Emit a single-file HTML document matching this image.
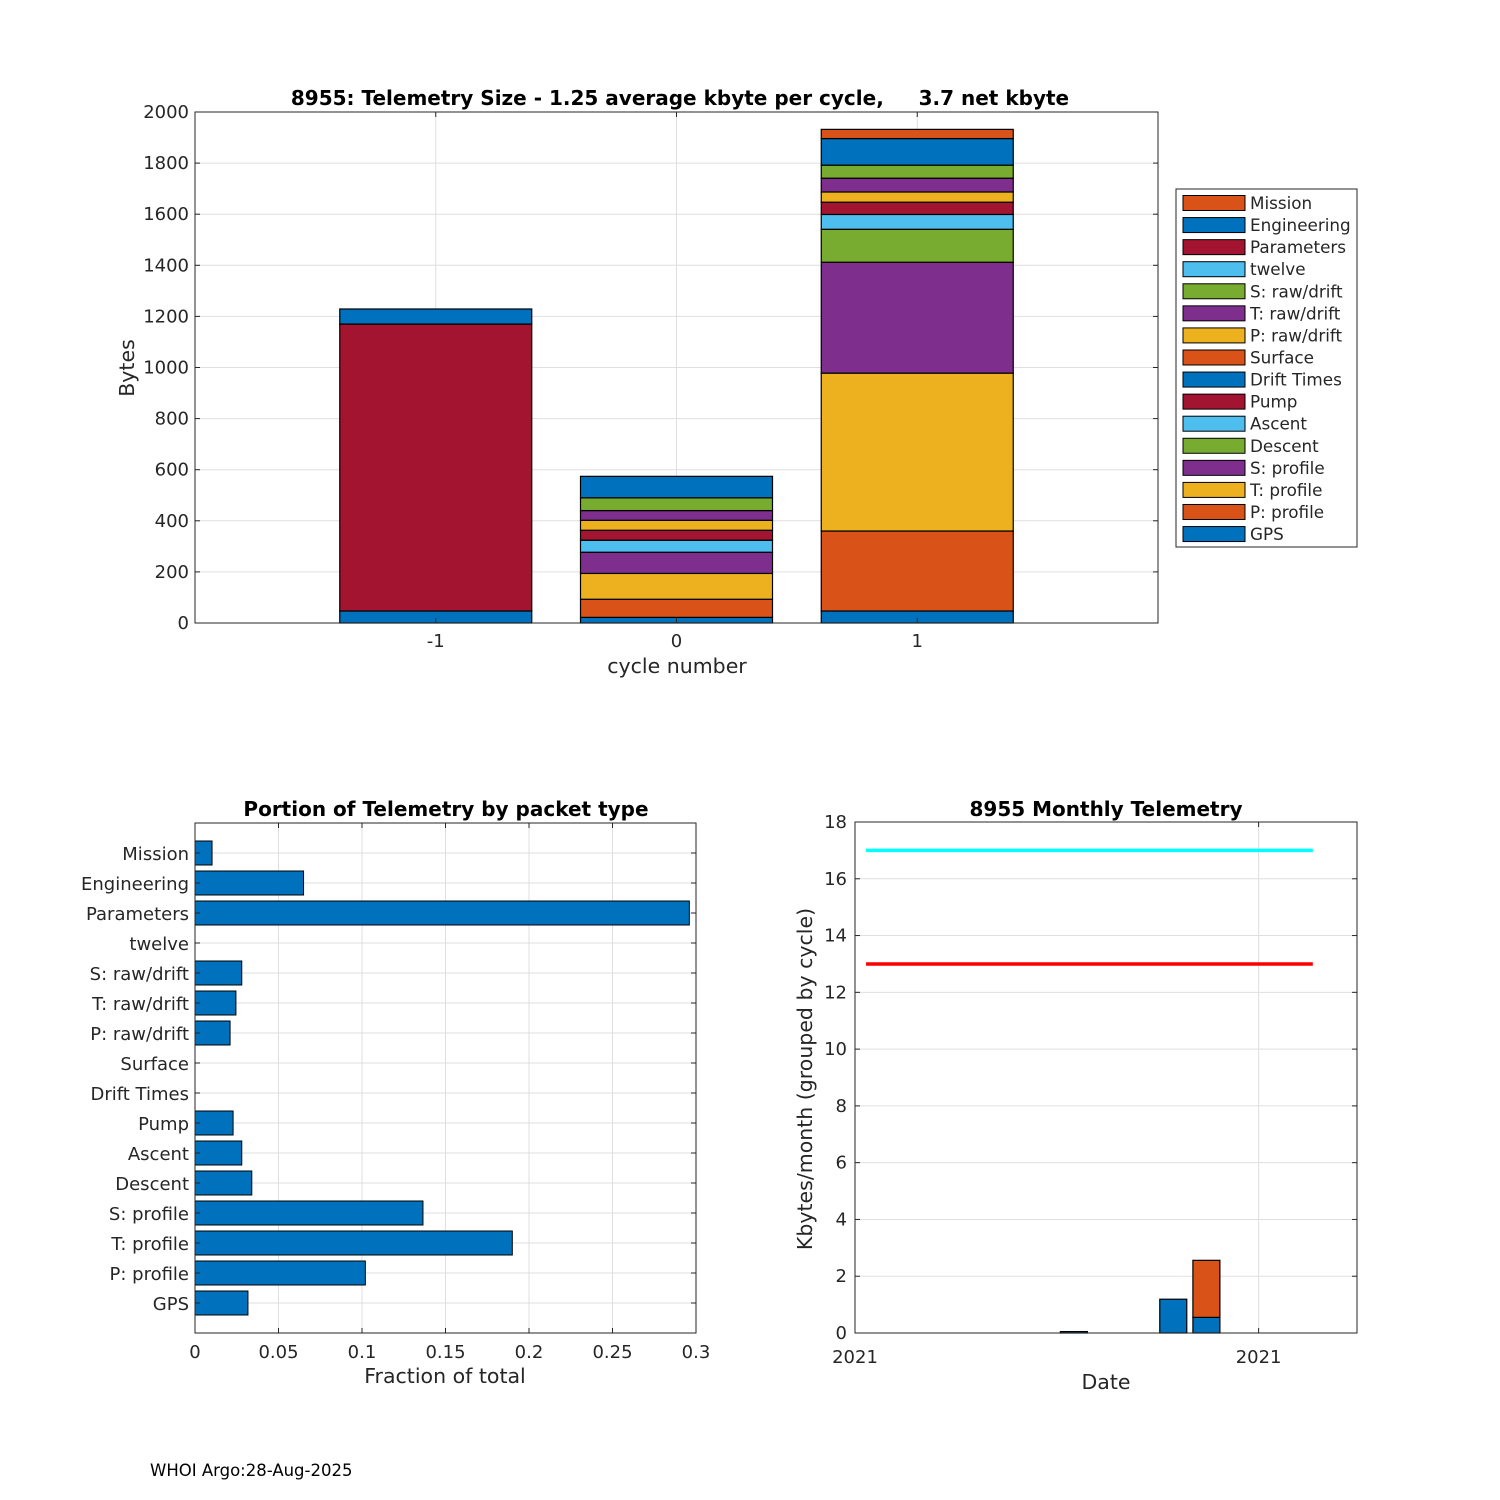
<!DOCTYPE html>
<html><head><meta charset="utf-8">
<style>
body{margin:0;background:#fff;}
svg{display:block;font-family:"DejaVu Sans","Liberation Sans",sans-serif;}
</style></head>
<body>
<svg id="fig" width="1500" height="1500" viewBox="0 0 1500 1500" xmlns="http://www.w3.org/2000/svg">
<rect width="1500" height="1500" fill="#fff"/>
</svg>
<script>
// ---- Top chart data ----
const cycles = [-1, 0, 1];
const seriesNames = ["GPS","P: profile","T: profile","S: profile","Descent","Ascent","Pump","Drift Times","Surface","P: raw/drift","T: raw/drift","S: raw/drift","twelve","Parameters","Engineering","Mission"];
const seriesColors = ["#0072BD","#D95319","#EDB120","#7E2F8E","#77AC30","#4DBEEE","#A2142F","#0072BD","#D95319","#EDB120","#7E2F8E","#77AC30","#4DBEEE","#A2142F","#0072BD","#D95319"];
const gpsVals = [47, 22, 47];
const pProfVals = [0, 71, 313];
const tProfVals = [0, 101, 618];
const sProfVals = [0, 83, 434];
const descentVals = [0, 0, 129];
const ascentVals = [0, 47, 58];
const pumpVals = [0, 39, 48];
const driftVals = [0, 0, 0];
const surfaceVals = [0, 0, 0];
const pRawVals = [0, 39, 40];
const tRawVals = [0, 38, 54];
const sRawVals = [0, 50, 51];
const twelveVals = [0, 0, 0];
const paramVals = [1123, 0, 0];
const engVals = [59, 84, 104];
const missionVals = [0, 0, 36];
const topYTicks = [0,200,400,600,800,1000,1200,1400,1600,1800,2000];
// ---- Bottom-left data ----
const packetLabels = ["GPS","P: profile","T: profile","S: profile","Descent","Ascent","Pump","Drift Times","Surface","P: raw/drift","T: raw/drift","S: raw/drift","twelve","Parameters","Engineering","Mission"];
const packetFractions = [0.0317,0.102,0.19,0.1365,0.034,0.028,0.0228,0,0,0.021,0.0245,0.028,0,0.296,0.065,0.0102];
const fracTicks = [0,0.05,0.1,0.15,0.2,0.25,0.3];
const fracTickLabels = ["0","0.05","0.1","0.15","0.2","0.25","0.3"];
// ---- Bottom-right data ----
const monthDays = [218, 317, 350];
const monthBlue = [0.05, 1.19, 0.55];
const monthOrange = [0, 0, 2.01];
const lineCyanY = 17, lineRedY = 13;
const lineStartDay = 11, lineEndDay = 456;
const dateTicks = [0, 402];
const dateTickLabels = ["2021","2021"];
const monthYTicks = [0,2,4,6,8,10,12,14,16,18];

const NS="http://www.w3.org/2000/svg";
const svg=document.getElementById('fig');
function el(tag,attrs,parent){const e=document.createElementNS(NS,tag);for(const k in attrs)e.setAttribute(k,attrs[k]);(parent||svg).appendChild(e);return e;}
function txt(x,y,s,size,anchor,parent,extra){const t=el('text',Object.assign({x:x,y:y,'font-size':size,'text-anchor':anchor||'middle',fill:'#262626'},extra||{}),parent);t.textContent=s;return t;}
const TK=18, AX=20.5, TT=20;

// ===== Top chart =====
const T={l:195,r:1158,t:112,b:623};
const tx=v=>T.l+(v+2)/4*(T.r-T.l);
const ty=v=>T.b-v/2000*(T.b-T.t);
const gTop=el('g',{});


topYTicks.forEach(v=>{const l=el('line',{x1:T.l,x2:T.r,y1:ty(v),y2:ty(v),stroke:'#dfdfdf'},gTop);});
cycles.forEach(c=>{const l=el('line',{x1:tx(c),x2:tx(c),y1:T.t,y2:T.b,stroke:'#dfdfdf'},gTop);});
const allSeries=[gpsVals,pProfVals,tProfVals,sProfVals,descentVals,ascentVals,pumpVals,driftVals,surfaceVals,pRawVals,tRawVals,sRawVals,twelveVals,paramVals,engVals,missionVals];
cycles.forEach((c,i)=>{let base=0;allSeries.forEach((s,k)=>{const v=s[i];if(v>0){const r=el('rect',{x:tx(c)-96,width:192,y:ty(base+v),height:ty(base)-ty(base+v),fill:seriesColors[k],stroke:'#000','stroke-width':1.2},gTop);}base+=v;});});
el('rect',{x:T.l,y:T.t,width:T.r-T.l,height:T.b-T.t,fill:'none',stroke:'#262626','stroke-width':1},gTop);
topYTicks.forEach(v=>{el('line',{x1:T.l,x2:T.l+5,y1:ty(v),y2:ty(v),stroke:'#262626'},gTop);el('line',{x1:T.r,x2:T.r-5,y1:ty(v),y2:ty(v),stroke:'#262626'},gTop);const t=txt(T.l-6,ty(v)+6,String(v),TK,'end',gTop);});
cycles.forEach(c=>{el('line',{x1:tx(c),x2:tx(c),y1:T.b,y2:T.b-5,stroke:'#262626'},gTop);el('line',{x1:tx(c),x2:tx(c),y1:T.t,y2:T.t+5,stroke:'#262626'},gTop);const t=txt(tx(c),T.b+24,String(c),TK,'middle',gTop);});
let t1=txt(677,673,'cycle number',AX,'middle',gTop);
let t2=txt(0,0,'Bytes',AX,'middle',gTop,{transform:'translate(134,368) rotate(-90)'});
let t3=txt(680,105,'8955: Telemetry Size - 1.25 average kbyte per cycle,     3.7 net kbyte',TT,'middle',gTop,{'font-weight':'bold',fill:'#000',style:'white-space:pre'});
// legend
const gLeg=el('g',{});


el('rect',{x:1176,y:189,width:181,height:358,fill:'#fff',stroke:'#262626'},gLeg);
for(let j=0;j<16;j++){const k=15-j;const y=203+j*22.07;const g=el('g',{},gLeg);el('rect',{x:1183,y:y-7.5,width:62,height:15,fill:seriesColors[k],stroke:'#000','stroke-width':1},g);txt(1250,y+6,seriesNames[k],16.8,'start',g);}

// ===== Bottom-left =====
const L={l:195,r:696,t:823,b:1333};
const lx=v=>L.l+v/0.3*(L.r-L.l);
const ly=i=>L.b-(i+1)*(L.b-L.t)/17;
const gL=el('g',{});


fracTicks.forEach(v=>{el('line',{x1:lx(v),x2:lx(v),y1:L.t,y2:L.b,stroke:'#dfdfdf'},gL);});
packetLabels.forEach((n,i)=>{el('line',{x1:L.l,x2:L.r,y1:ly(i),y2:ly(i),stroke:'#dfdfdf'},gL);});
packetLabels.forEach((n,i)=>{const v=packetFractions[i];if(v>0){const r=el('rect',{x:L.l,y:ly(i)-12,width:lx(v)-L.l,height:24,fill:'#0072BD',stroke:'#000','stroke-width':1},gL);}
 el('line',{x1:L.l,x2:L.l+5,y1:ly(i),y2:ly(i),stroke:'#262626'},gL);el('line',{x1:L.r,x2:L.r-5,y1:ly(i),y2:ly(i),stroke:'#262626'},gL);
 const t=txt(L.l-6,ly(i)+7,n,TK,'end',gL);});
el('rect',{x:L.l,y:L.t,width:L.r-L.l,height:L.b-L.t,fill:'none',stroke:'#262626'},gL);
fracTicks.forEach((v,i)=>{el('line',{x1:lx(v),x2:lx(v),y1:L.b,y2:L.b-5,stroke:'#262626'},gL);el('line',{x1:lx(v),x2:lx(v),y1:L.t,y2:L.t+5,stroke:'#262626'},gL);const t=txt(lx(v),L.b+25,fracTickLabels[i],TK,'middle',gL);});
let t4=txt(445,1383,'Fraction of total',AX,'middle',gL);
let t5=txt(446,816,'Portion of Telemetry by packet type',TT,'middle',gL,{'font-weight':'bold',fill:'#000'});

// ===== Bottom-right =====
const R={l:855,r:1357,t:822,b:1333};
const rx=d=>R.l+d/500*(R.r-R.l);
const ry=v=>R.b-v/18*(R.b-R.t);
const gR=el('g',{});


monthYTicks.forEach(v=>{el('line',{x1:R.l,x2:R.r,y1:ry(v),y2:ry(v),stroke:'#dfdfdf'},gR);});
dateTicks.forEach(d=>{el('line',{x1:rx(d),x2:rx(d),y1:R.t,y2:R.b,stroke:'#dfdfdf'},gR);});
monthDays.forEach((d,i)=>{const b=monthBlue[i],o=monthOrange[i];
 const r=el('rect',{x:rx(d)-13.5,width:27,y:ry(b),height:Math.max(ry(0)-ry(b),0.5),fill:'#0072BD',stroke:'#000','stroke-width':1.2},gR);
 if(o>0){const r2=el('rect',{x:rx(d)-13.5,width:27,y:ry(b+o),height:ry(b)-ry(b+o),fill:'#D95319',stroke:'#000','stroke-width':1.2},gR);}});
const lc=el('line',{x1:rx(lineStartDay),x2:rx(lineEndDay),y1:ry(lineCyanY),y2:ry(lineCyanY),stroke:'#00FFFF','stroke-width':3.5},gR);


const lr=el('line',{x1:rx(lineStartDay),x2:rx(lineEndDay),y1:ry(lineRedY),y2:ry(lineRedY),stroke:'#FF0000','stroke-width':3.5},gR);


el('rect',{x:R.l,y:R.t,width:R.r-R.l,height:R.b-R.t,fill:'none',stroke:'#262626'},gR);
monthYTicks.forEach(v=>{el('line',{x1:R.l,x2:R.l+5,y1:ry(v),y2:ry(v),stroke:'#262626'},gR);el('line',{x1:R.r,x2:R.r-5,y1:ry(v),y2:ry(v),stroke:'#262626'},gR);const t=txt(R.l-8,ry(v)+6,String(v),TK,'end',gR);});
dateTicks.forEach((d,i)=>{el('line',{x1:rx(d),x2:rx(d),y1:R.b,y2:R.b-5,stroke:'#262626'},gR);el('line',{x1:rx(d),x2:rx(d),y1:R.t,y2:R.t+5,stroke:'#262626'},gR);const t=txt(rx(d),R.b+30,dateTickLabels[i],TK,'middle',gR);});
let t6=txt(1106,1389,'Date',AX,'middle',gR);
let t7=txt(0,0,'Kbytes/month (grouped by cycle)',AX,'middle',gR,{transform:'translate(812,1079) rotate(-90)'});
let t8=txt(1106,816,'8955 Monthly Telemetry',TT,'middle',gR,{'font-weight':'bold',fill:'#000'});

let ft=txt(150,1476,'WHOI Argo:28-Aug-2025',16.5,'start',svg,{fill:'#000'});


</script>
</body></html>
